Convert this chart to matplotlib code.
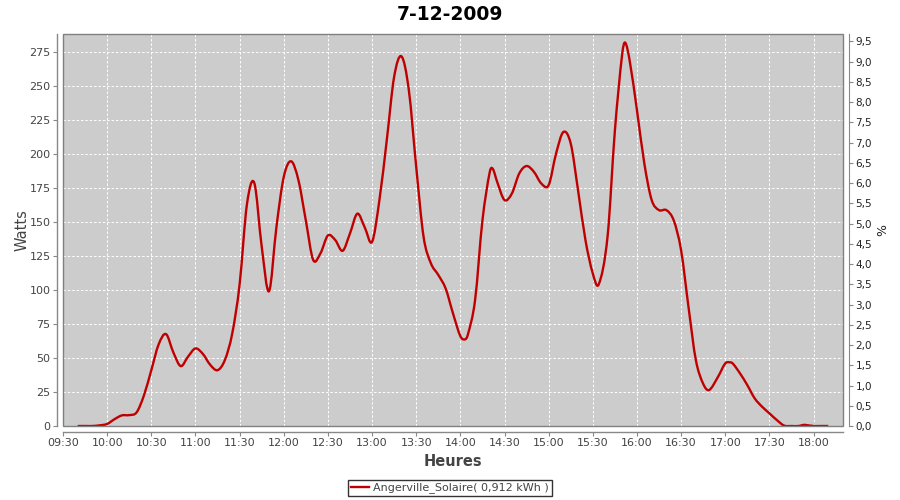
import matplotlib
matplotlib.use("Agg")
import matplotlib.pyplot as plt
from matplotlib.patches import Rectangle, PathPatch
from matplotlib.path import Path
from matplotlib.ticker import FixedLocator, FuncFormatter

title = "7-12-2009"
series_name = "Angerville_Solaire( 0,912 kWh )"

times = ["09:40","09:45","09:50","09:55","10:00","10:05","10:10","10:15","10:20","10:25",
         "10:30","10:35","10:40","10:45","10:50","10:55","11:00","11:05","11:10","11:15",
         "11:20","11:25","11:30","11:35","11:40","11:45","11:50","11:55","12:00","12:05",
         "12:10","12:15","12:20","12:25","12:30","12:35","12:40","12:45","12:50","12:55",
         "13:00","13:05","13:10","13:15","13:20","13:25","13:30","13:35","13:40","13:45",
         "13:50","13:55","14:00","14:03","14:05","14:10","14:15","14:20","14:22","14:25",
         "14:30","14:35","14:40","14:45","14:50","14:55","15:00","15:05","15:10","15:15",
         "15:20","15:25","15:30","15:34","15:40","15:45","15:50","15:52","15:55","16:00",
         "16:05","16:10","16:15","16:20","16:25","16:30","16:35","16:40","16:45","16:49",
         "16:55","17:00","17:03","17:05","17:10","17:15","17:20","17:25","17:30","17:35",
         "17:40","17:45","17:50","17:53","17:55","18:00","18:05","18:10"]

watts = [0, 0, 0, 0.5, 1.5, 5, 7.8, 8, 10, 22.5,
         41, 60, 67.5, 54, 44, 51, 57, 53, 45, 41,
         48.5, 68, 104, 163, 178.5, 132, 99, 146, 183, 194.5,
         180.5, 151, 122, 127, 140, 136.6, 128.7, 141.5, 156, 146,
         135.3, 166, 210, 256.5, 271.6, 246.7, 190.4, 139, 119.5, 111,
         101, 82.7, 66, 63.6, 66.8, 92.5, 151, 186.7, 189, 179.4,
         166, 170.8, 185.5, 191, 186.7, 178.2, 177, 200, 216, 207.5,
         173, 136.6, 112, 104, 139, 217, 273.6, 281.7, 268.7, 232,
         192.9, 166, 158.6, 158.6, 151, 129, 87.6, 48.5, 31, 26.4,
         36, 46, 46.8, 46, 38.7, 30, 20.3, 14.2, 9.3, 4.4,
         0.3, 0, 0, 0.8, 0.7, 0, 0, 0]

x_tick_labels = ["09:30","10:00","10:30","11:00","11:30","12:00","12:30","13:00","13:30",
                 "14:00","14:30","15:00","15:30","16:00","16:30","17:00","17:30","18:00"]
left_ticks = [0, 25, 50, 75, 100, 125, 150, 175, 200, 225, 250, 275]
right_ticks = [i * 0.5 for i in range(20)]

LINE_COLOR = '#c00000'


def to_hours(s):
    h, m = s.split(":")
    return int(h) + int(m) / 60.0


x = [to_hours(t) for t in times]
xt = [to_hours(t) for t in x_tick_labels]


def spline_path(xs, ys):
    # Cubic Hermite (Bezier) path through the data points, like a spline renderer
    n = len(xs)
    slopes = []
    for i in range(n):
        if i == 0:
            m = (ys[1] - ys[0]) / (xs[1] - xs[0])
        elif i == n - 1:
            m = (ys[-1] - ys[-2]) / (xs[-1] - xs[-2])
        else:
            m = (ys[i + 1] - ys[i - 1]) / (xs[i + 1] - xs[i - 1])
        slopes.append(m)
    verts = [(xs[0], ys[0])]
    codes = [Path.MOVETO]
    for i in range(n - 1):
        h = xs[i + 1] - xs[i]
        verts += [(xs[i] + h / 3, ys[i] + slopes[i] * h / 3),
                  (xs[i + 1] - h / 3, ys[i + 1] - slopes[i + 1] * h / 3),
                  (xs[i + 1], ys[i + 1])]
        codes += [Path.CURVE4, Path.CURVE4, Path.CURVE4]
    return Path(verts, codes)


plt.rcParams['font.family'] = ['DejaVu Sans']

fig = plt.figure(figsize=(9, 5), dpi=100)
ax = fig.add_axes([63/900, 74/500, 780/900, 392/500])
ax.set_facecolor('#cccccc')

ax.add_patch(PathPatch(spline_path(x, watts), facecolor='none', edgecolor=LINE_COLOR,
                       lw=1.7, joinstyle='round', zorder=3))

ax.set_xlim(9.5, 18 + 20/60)
ax.set_ylim(0, 288)
ax.xaxis.set_major_locator(FixedLocator(xt))
ax.set_xticklabels(x_tick_labels)
ax.yaxis.set_major_locator(FixedLocator(left_ticks))
ax.grid(True, color='white', ls=(0, (2.5, 2)), lw=0.7)
ax.set_axisbelow(True)

for sp in ['top', 'right']:
    ax.spines[sp].set_visible(False)
for sp in ['left', 'bottom']:
    ax.spines[sp].set_position(('outward', 4))
    ax.spines[sp].set_color('#888888')
    ax.spines[sp].set_linewidth(1.0)

ax.add_patch(Rectangle((0, 0), 1, 1, transform=ax.transAxes, fill=False,
                       edgecolor='#808080', lw=1.0, zorder=4, clip_on=False))

ax.tick_params(axis='both', colors='#888888', labelcolor='#444444', labelsize=8,
               length=3, width=0.8, direction='out', pad=2)

ax2 = ax.twinx()
ax2.set_ylim(0, 9.68)
ax2.yaxis.set_major_locator(FixedLocator(right_ticks))
ax2.yaxis.set_major_formatter(FuncFormatter(lambda v, p: f"{v:.1f}".replace('.', ',')))
for sp in ['top', 'left', 'bottom']:
    ax2.spines[sp].set_visible(False)
ax2.spines['right'].set_position(('outward', 4))
ax2.spines['right'].set_color('#888888')
ax2.tick_params(axis='y', colors='#888888', labelcolor='#222222', labelsize=7.5,
                length=3, width=0.8, direction='out', pad=2)

ax.set_ylabel("Watts", fontsize=10.5, color='#444444', labelpad=0)
ax.set_xlabel("Heures", fontsize=10.5, color='#444444', fontweight='bold', labelpad=4)
ax2.set_ylabel("%", fontsize=9, color='#222222', labelpad=3)

fig.text(0.5, 0.972, title, ha='center', va='center', fontsize=13.5, fontweight='bold')

handle, = ax.plot([], [], color=LINE_COLOR, lw=1.7)
leg = fig.legend([handle], [series_name], loc='center', bbox_to_anchor=(0.5, 0.024),
                 fontsize=8, frameon=True, fancybox=False, handlelength=1.6,
                 handletextpad=0.4, borderpad=0.25, borderaxespad=0)
leg.get_frame().set_edgecolor('black')
leg.get_frame().set_linewidth(1.0)
for t in leg.get_texts():
    t.set_color('#444444')

fig.savefig("out.png", dpi=100)
